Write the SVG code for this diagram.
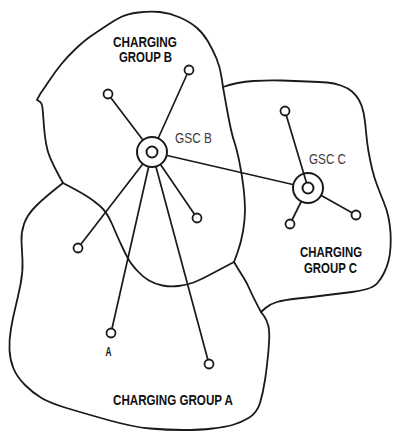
<svg xmlns="http://www.w3.org/2000/svg" width="394" height="434" viewBox="0 0 394 434">
<style>
.bd{fill:none;stroke:#1a1a1a;stroke-width:1.8;stroke-linejoin:round;stroke-linecap:round}
.ln{stroke:#1a1a1a;stroke-width:1.7;stroke-linecap:round}
.nd{fill:#fff;stroke:#1a1a1a;stroke-width:1.8}
.gsc{fill:#fff;stroke:#1a1a1a;stroke-width:2}
.lbl{font-family:"Liberation Sans",Arial,sans-serif;font-weight:bold;font-size:14px;fill:#111}
.gl{font-family:"Liberation Sans",Arial,sans-serif;font-size:14px;fill:#3a3a3a}
</style>
<rect width="394" height="434" fill="#fff"/>
<g id="regions">
<path id="group-b" class="bd" d="M223,87 Q227,110 229.5,122.5 Q232,135 234.5,142.5 Q237,150 239.5,162.5 Q242,175 243.5,187.5 Q245,200 245,210 Q245,220 243,231.5 Q241,243 237.5,252.5 L234,262 Q215,272 207.5,276 Q200,280 193.5,282.5 Q187,285 178.5,286 Q170,287 162.5,285.5 Q155,284 149,280.5 Q143,277 137.5,271 Q132,265 129.5,261 Q127,257 122.5,247.5 Q118,238 112.5,225 Q107,212 100,206 Q93,200 86.5,196 Q80,192 71.5,187.5 L63,183 Q50,160 47.5,150 Q45,140 44,126.5 Q43,113 42.5,108 Q42,103 39.5,101.5 L37,100 Q40,94 41.5,92 Q43,90 49,81 Q55,72 61,64.5 Q67,57 76,48.5 Q85,40 92.5,35 Q100,30 107.5,25 Q115,20 121,17 Q127,14 138.5,12.5 Q150,11 160,12 Q170,13 180,17.5 Q190,22 196.5,27.5 Q203,33 208,41.5 Q213,50 216.5,58.5 Q220,67 221.5,77 Z"/>
<path id="group-a" class="bd" d="M63,183 Q45,197 36,206 Q27,215 24,224 Q21,233 21.5,241.5 Q22,250 22.5,261 Q23,272 20.5,284.5 Q18,297 15.5,307 Q13,317 11,328.5 Q9,340 9.5,350 Q10,360 13.5,368.5 Q17,377 25,385 Q33,393 41.5,398 Q50,403 66.5,408 Q83,413 108,420 Q133,427 150,428.5 Q167,430 183.5,430 Q200,430 212.5,428.5 Q225,427 232.5,425 Q240,423 248.5,418 Q257,413 260,403 Q263,393 265,380 Q267,367 268.5,350 Q270,333 268.5,326.5 Q267,320 264,316 L261,312 Q253,297 250,290 Q247,283 243.5,277.5 Q240,272 237,267 L234,262"/>
<path id="group-c" class="bd" d="M223,87 Q237,82 253.5,81 Q270,80 282,80.5 Q294,81 307,81.5 Q320,82 327,82.5 Q334,83 341,85.5 Q348,88 352,91.5 Q356,95 359,100 Q362,105 363.5,112.5 Q365,120 366,131.5 Q367,143 368.5,151.5 Q370,160 372,168.5 Q374,177 377,185 Q380,193 383.5,201.5 Q387,210 388.5,217.5 Q390,225 390.5,232.5 Q391,240 390.5,247.5 Q390,255 388.5,261 Q387,267 384,273 Q381,279 377.5,283 Q374,287 367,289 Q360,291 352,292 Q344,293 327.5,295 Q311,297 297.5,298.5 Q284,300 277,302 Q270,304 265.5,308 L261,312"/>
</g>
<g id="connectors">
<line class="ln" x1="152" y1="152" x2="108" y2="94"/>
<line class="ln" x1="152" y1="152" x2="189" y2="70"/>
<line class="ln" x1="152" y1="152" x2="197" y2="218"/>
<line class="ln" x1="152" y1="152" x2="78" y2="248"/>
<line class="ln" x1="152" y1="152" x2="111" y2="333"/>
<line class="ln" x1="152" y1="152" x2="209" y2="364"/>
<line class="ln" x1="152" y1="152" x2="308" y2="188"/>
<line class="ln" x1="308" y1="188" x2="356" y2="215"/>
<line class="ln" x1="308" y1="188" x2="290" y2="224"/>
</g>
<g id="gsc-b">
<circle class="gsc" cx="152" cy="152" r="15"/>
<circle class="gsc" cx="152" cy="152" r="5.5"/>
<text class="gl" x="175" y="143" textLength="37" lengthAdjust="spacingAndGlyphs">GSC B</text>
</g>
<g id="gsc-c">
<circle class="gsc" cx="308" cy="188" r="15"/>
<line class="ln" x1="285" y1="111" x2="306.5" y2="182.8"/>
<circle class="gsc" cx="308" cy="188" r="5.5"/>
<text class="gl" x="309" y="164" textLength="37" lengthAdjust="spacingAndGlyphs">GSC C</text>
</g>
<g id="stations">
<circle id="n-b1" class="nd" cx="108" cy="94" r="4.5"/>
<circle id="n-b2" class="nd" cx="189" cy="70" r="4.5"/>
<circle id="n-b3" class="nd" cx="197" cy="218" r="4.5"/>
<circle id="n-a1" class="nd" cx="78" cy="248" r="4.5"/>
<g id="n-a"><circle class="nd" cx="111" cy="333" r="4.5"/>
<text class="lbl" x="105.5" y="356" textLength="6" lengthAdjust="spacingAndGlyphs" style="font-size:12px">A</text></g>
<circle id="n-a2" class="nd" cx="209" cy="364" r="4.5"/>
<circle id="n-c1" class="nd" cx="285" cy="111" r="4.5"/>
<circle id="n-c2" class="nd" cx="356" cy="215" r="4.5"/>
<circle id="n-c3" class="nd" cx="290" cy="224" r="4.5"/>
</g>
<g id="labels">
<text class="lbl" x="113" y="47" textLength="64" lengthAdjust="spacingAndGlyphs">CHARGING</text>
<text class="lbl" x="119" y="62" textLength="53" lengthAdjust="spacingAndGlyphs">GROUP B</text>
<text class="lbl" x="300" y="257" textLength="62" lengthAdjust="spacingAndGlyphs">CHARGING</text>
<text class="lbl" x="304" y="273" textLength="53" lengthAdjust="spacingAndGlyphs">GROUP C</text>
<text class="lbl" x="113" y="405" textLength="120" lengthAdjust="spacingAndGlyphs">CHARGING GROUP A</text>
</g>
</svg>
